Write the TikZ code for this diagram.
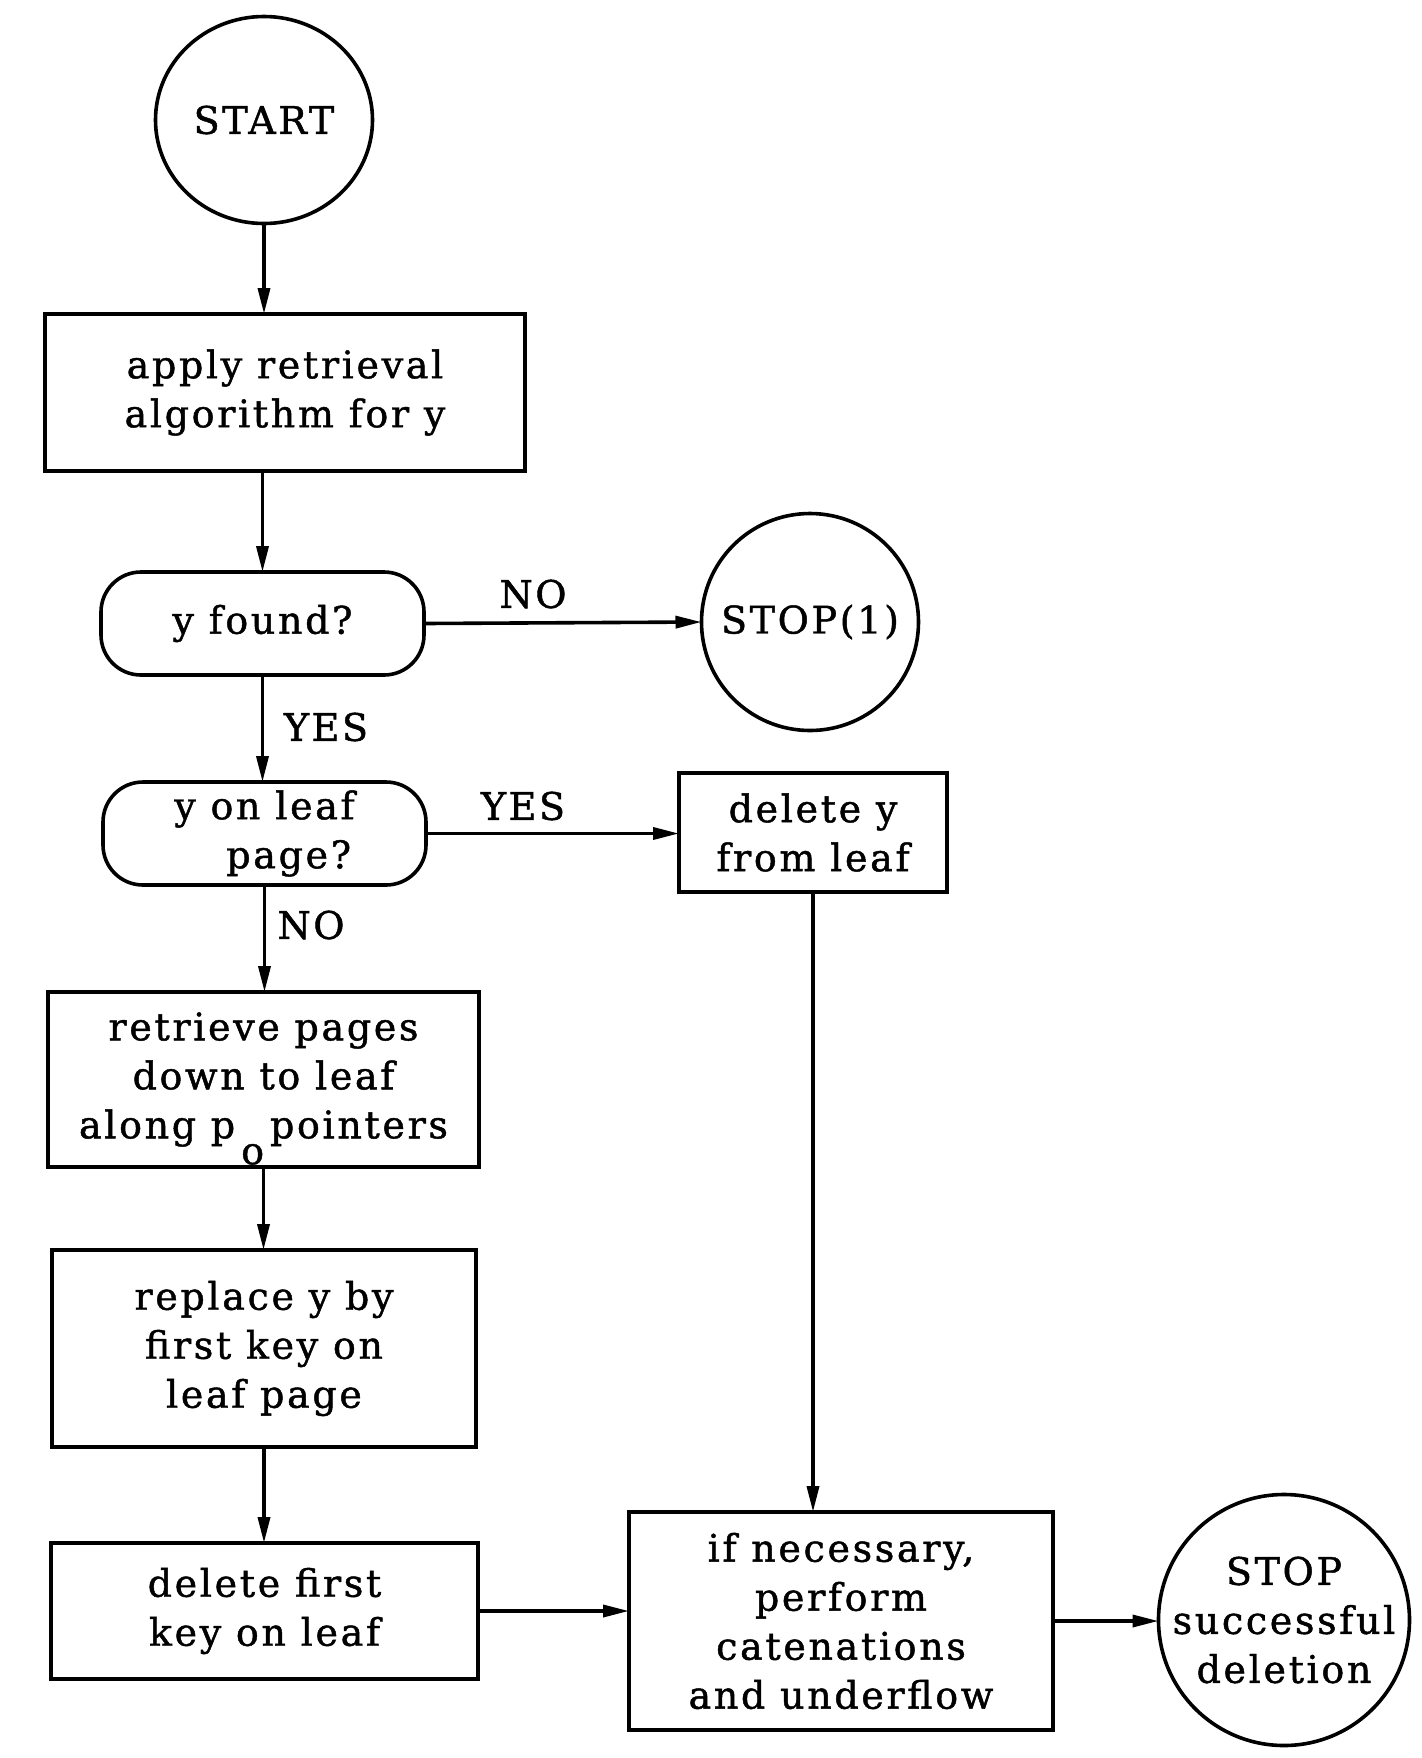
\documentclass[tikz,border=0pt]{standalone}
\usepackage{fontspec}
\setmainfont{DejaVu Serif}[LetterSpace=7,FakeBold=1.2]
\usetikzlibrary{arrows.meta,shapes.geometric}
\begin{document}
\begin{tikzpicture}[x=0.5pt,y=-0.5pt,
  every node/.style={font=\fontsize{19pt}{24.5pt}\selectfont, inner sep=0pt, outer sep=0pt},
  box/.style={draw, line width=2pt, align=center},
  term/.style={draw, ellipse, line width=1.8pt},
  termtext/.style={align=center},
  decision/.style={draw, rounded corners=20pt, line width=1.8pt},
  flow/.style={line width=1.8pt, -{Triangle[length=13pt,width=6pt]}},
  lbl/.style={}
]
\useasboundingbox (0,0) rectangle (1422,1758);

% nodes
\node[term, minimum width=108.5pt, minimum height=103.5pt,
      label={[termtext]center:START}] (start) at (264,120) {};
\node[box, minimum width=240pt, minimum height=78.5pt] (apply) at (285,392.5) {apply retrieval\\algorithm for y};
\node[decision, minimum width=161.5pt, minimum height=51.5pt] (yfound) at (262.5,623.5) {y found?};
\node[term, minimum width=108.5pt, minimum height=108.5pt,
      label={[termtext]center:STOP(1)}] (stop1) at (810,622) {};
\node[decision, minimum width=161.5pt, minimum height=51.5pt, align=left] (yleaf) at (264.5,833.5) {y on leaf\\\hspace*{26pt}page?};
\node[box, minimum width=134pt, minimum height=59.5pt] (delleaf) at (813,832.5) {delete y\\from leaf};
\node[box, minimum width=215.5pt, minimum height=87.5pt] (retrieve) at (263.5,1079.5) {retrieve pages\\down to leaf\\along p\hspace{3pt}\raisebox{-13pt}[0pt][0pt]{o}\hspace{3pt}pointers};
\node[box, minimum width=212pt, minimum height=98.5pt] (replace) at (264,1348.5) {replace y by\\first key on\\leaf page};
\node[box, minimum width=213.5pt, minimum height=68pt] (delfirst) at (264.5,1611) {delete first\\key on leaf};
\node[box, minimum width=212pt, minimum height=109pt] (ifnec) at (841,1621) {if necessary,\\perform\\catenations\\and underflow};
\node[term, minimum width=125.5pt, minimum height=125.5pt,
      label={[termtext]center:STOP\\successful\\deletion}] (stopok) at (1284,1620) {};

% labels
\node[lbl] (no1) at (533,594) {NO};
\node[lbl] (yes1) at (326,727) {YES};
\node[lbl] (yes2) at (523,806) {YES};
\node[lbl] (no2) at (311,925) {NO};

% connectors
\draw[flow] (start.south) -- (start.south |- apply.north);
\draw[flow] (yfound.north |- apply.south) -- (yfound.north);
\draw[flow] (yfound.east) -- (stop1.west);
\draw[flow] (yfound.south) -- (yfound.south |- yleaf.north);
\draw[flow] (yleaf.east) -- (yleaf.east -| delleaf.west);
\draw[flow] (yleaf.south) -- (yleaf.south |- retrieve.north);
\draw[flow] (retrieve.south) -- (retrieve.south |- replace.north);
\draw[flow] (replace.south) -- (replace.south |- delfirst.north);
\draw[flow] (delleaf.south) -- (delleaf.south |- ifnec.north);
\draw[flow] (delfirst.east) -- (delfirst.east -| ifnec.west);
\draw[flow] (ifnec.east) -- (ifnec.east -| stopok.west);
\end{tikzpicture}
\end{document}
